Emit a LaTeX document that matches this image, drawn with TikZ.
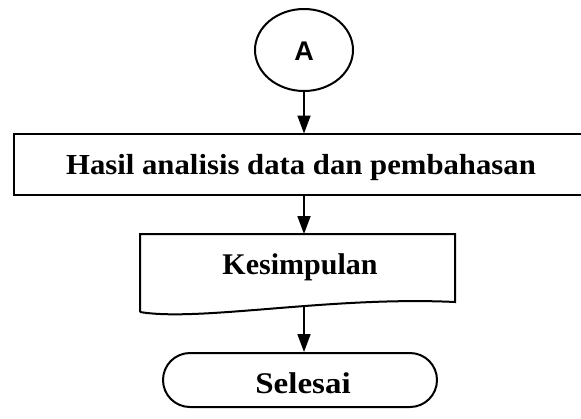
\documentclass[tikz,border=0pt]{standalone}
\usepackage{fontspec}
\setmainfont{Liberation Serif}
\newfontfamily\labelsans{Liberation Sans}
\usetikzlibrary{arrows.meta,shapes.geometric,shapes.misc}
\begin{document}
\begin{tikzpicture}[x=1pt,y=-1pt,
  line/.style={line width=2pt},
  arr/.style={line width=1.8pt,-{Triangle[length=18pt,width=13pt]}},
  lbl/.style={font=\fontsize{30}{34}\selectfont\bfseries},
]
\useasboundingbox (0,0) rectangle (581,418);
\fill[white] (0,0) rectangle (581,418);
% connector A
\node[ellipse,draw,line,minimum width=98pt,minimum height=82pt,inner sep=0pt] (A) at (304,50) {};
\node[anchor=base,font=\fontsize{27}{30}\selectfont\labelsans\bfseries] (Atext) at (304,60) {A};
% process box (runs past the right edge)
\node[rectangle,minimum width=580pt,minimum height=61pt,inner sep=0pt,anchor=north west] (box) at (14,133.5) {};
\begin{scope}
\clip (0,0) rectangle (581,418);
\draw[line] (590,133.5) -- (14,133.5) -- (14,194.5) -- (590,194.5);
\end{scope}
\node[lbl,font=\fontsize{29}{33}\selectfont\bfseries,anchor=base] (t1) at (301,174) {\scalebox{1.06}[1]{Hasil analisis data dan pembahasan}};
% document shape
\draw[line] (140,312) -- (140,234) -- (455,234) -- (455,302)
  .. controls (330,296) and (200,322) .. (140,312);
\node[rectangle,minimum width=315pt,minimum height=70pt,inner sep=0pt,anchor=north west] (doc) at (140,234) {};
\coordinate (docb) at (304,306.5);
\node[lbl,anchor=base] (t2) at (300,274) {Kesimpulan};
% terminator
\node[rounded rectangle,draw,line,minimum width=274pt,minimum height=54pt,inner sep=0pt] (end) at (300,380) {};
\node[lbl,anchor=base] (t3) at (303,393) {\scalebox{1.1}[1]{Selesai}};
% connectors
\draw[arr] (A.south) -- (A.south |- box.north);
\draw[arr] (box.south -| docb) -- (docb |- doc.north);
\draw[arr] (docb) -- (docb |- end.north);
\end{tikzpicture}
\end{document}
